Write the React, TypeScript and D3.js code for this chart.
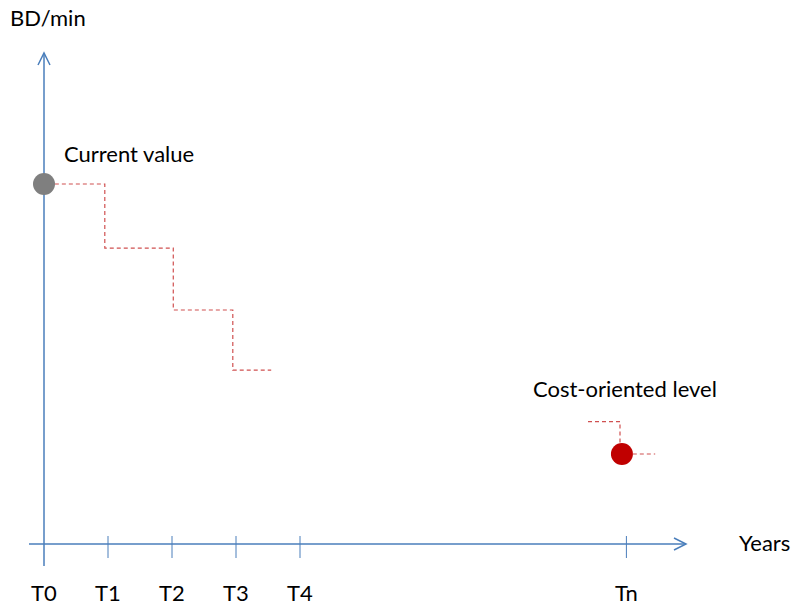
import * as React from 'react'
import { scaleLinear, line } from 'd3'

const tickLabels = ['T0', 'T1', 'T2', 'T3', 'T4', 'Tn']
const tickYears = [0, 1, 2, 3, 4, 9.1]
// step path: [year, value]
const stepYears = [0.06, 0.95, 0.95, 2.02, 2.02, 2.95, 2.95, 3.55]
const stepValues = [100, 100, 82.2, 82.2, 65, 65, 48.3, 48.3]
const currentValue = 100
const targetYear = 9.03
const targetValue = 25
const targetLeadYears = [8.5, 9.0, 9.0]
const targetLeadValues = [34, 34, 28]
const targetTailYears = [9.2, 9.55]

const W = 791
const H = 606
const FONT = 'Lato, "Open Sans", sans-serif'
const FS = 22

export default function App() {
  const x = scaleLinear().domain([0, 1]).range([44, 108])
  const y = scaleLinear().domain([0, 100]).range([544, 184])
  const axisColor = '#4a7ebb'
  const dashColor = '#d05050'
  const mk = line<[number, number]>()
    .x((d) => x(d[0]))
    .y((d) => y(d[1]))
  const steps = stepYears.map((t, i) => [t, stepValues[i]] as [number, number])
  const lead = targetLeadYears.map((t, i) => [t, targetLeadValues[i]] as [number, number])
  const tail = targetTailYears.map((t) => [t, targetValue] as [number, number])
  const x0 = x(0)
  const yBase = y(0)

  return (
    <svg width={W} height={H} style={{ position: 'absolute', left: 0, top: 0, background: '#fff' }} fontFamily={FONT}>
      {/* y axis */}
      <line x1={x0} x2={x0} y1={566} y2={53} stroke={axisColor} strokeWidth={1.5} />
      <path d={`M${x0 - 6},${65} L${x0},${53} L${x0 + 6},${65}`} fill="none" stroke={axisColor} strokeWidth={1.5} />
      {/* x axis */}
      <line x1={29} x2={686} y1={yBase} y2={yBase} stroke={axisColor} strokeWidth={1.5} />
      <path d={`M${674},${yBase - 6} L${686},${yBase} L${674},${yBase + 6}`} fill="none" stroke={axisColor} strokeWidth={1.5} />
      {tickYears.map((t, i) =>
        i === 0 ? null : (
          <line key={t} x1={x(t)} x2={x(t)} y1={yBase - 8} y2={yBase + 14} stroke={axisColor} strokeWidth={1} />
        )
      )}
      {tickLabels.map((l, i) => (
        <text key={l} x={x(tickYears[i])} y={601} textAnchor="middle" fontSize={FS} fill="#000">
          {l}
        </text>
      ))}
      <text x={10} y={26} fontSize={FS} fill="#000">BD/min</text>
      <text x={739} y={551} fontSize={FS} fill="#000">Years</text>

      <path d={mk(steps) ?? ''} fill="none" stroke={dashColor} strokeWidth={1.2} strokeDasharray="4,3" />
      <path d={mk(lead) ?? ''} fill="none" stroke={dashColor} strokeWidth={1.2} strokeDasharray="4,3" />
      <path d={mk(tail) ?? ''} fill="none" stroke={dashColor} strokeWidth={1.2} strokeDasharray="4,3" />

      <circle cx={x(0)} cy={y(currentValue)} r={11} fill="#7f7f7f" />
      <text x={64} y={162} fontSize={FS} fill="#000">Current value</text>
      <circle cx={x(targetYear)} cy={y(targetValue)} r={11} fill="#c00000" />
      <text x={533} y={397} fontSize={FS} fill="#000">Cost-oriented level</text>
    </svg>
  )
}
